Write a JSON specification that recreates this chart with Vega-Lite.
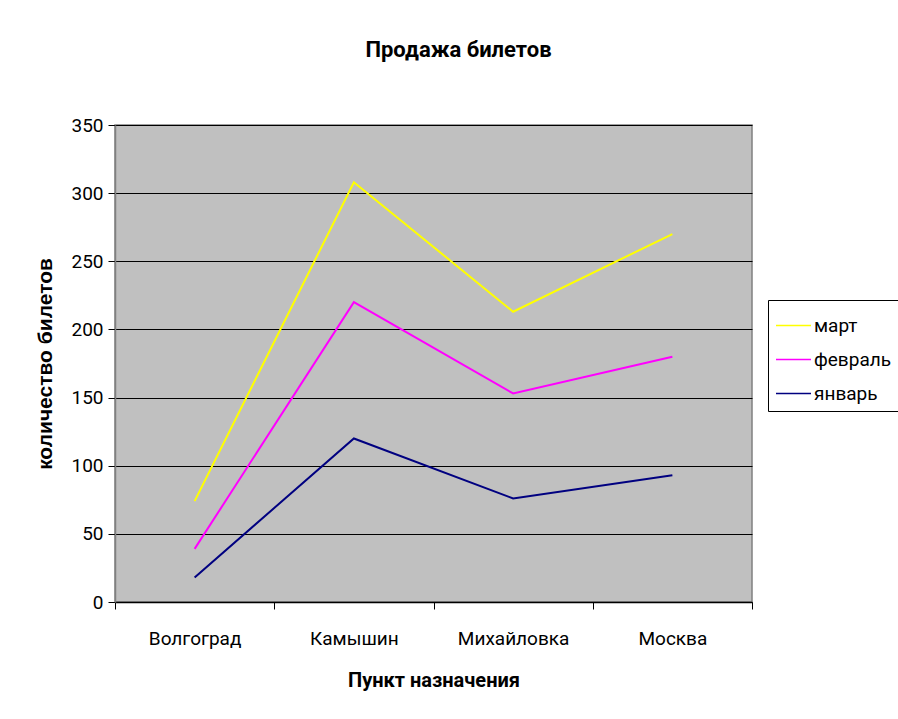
{
  "$schema": "https://vega.github.io/schema/vega-lite/v6.json",
  "autosize": "none",
  "width": 637,
  "height": 477,
  "padding": {"left": 115, "top": 125, "right": 146, "bottom": 117},
  "background": "white",
  "title": {
    "text": "Продажа билетов",
    "font": "Roboto",
    "fontSize": 22,
    "fontWeight": "bold",
    "color": "#000000",
    "anchor": "middle",
    "dx": 25,
    "offset": 54
  },
  "config": {
    "view": {"fill": "#C0C0C0", "stroke": "#808080", "strokeWidth": 1.5},
    "font": "Roboto"
  },
  "data": {
    "values": [
      {"city": "Волгоград", "month": "март", "n": 74},
      {"city": "Камышин", "month": "март", "n": 308},
      {"city": "Михайловка", "month": "март", "n": 213},
      {"city": "Москва", "month": "март", "n": 270},
      {"city": "Волгоград", "month": "февраль", "n": 39},
      {"city": "Камышин", "month": "февраль", "n": 220},
      {"city": "Михайловка", "month": "февраль", "n": 153},
      {"city": "Москва", "month": "февраль", "n": 180},
      {"city": "Волгоград", "month": "январь", "n": 18},
      {"city": "Камышин", "month": "январь", "n": 120},
      {"city": "Михайловка", "month": "январь", "n": 76},
      {"city": "Москва", "month": "январь", "n": 93}
    ]
  },
  "mark": {"type": "line", "strokeWidth": 2},
  "encoding": {
    "x": {
      "field": "city",
      "type": "nominal",
      "sort": ["Волгоград", "Камышин", "Михайловка", "Москва"],
      "scale": {"type": "band", "paddingInner": 0, "paddingOuter": 0},
      "axis": {
        "title": "Пункт назначения",
        "titleFont": "Roboto",
        "titleFontSize": 20,
        "titleFontWeight": "bold",
        "titleColor": "#000000",
        "titlePadding": 22,
        "labelAngle": 0,
        "labelFont": "Roboto",
        "labelFontSize": 19,
        "labelColor": "#000000",
        "labelPadding": 20,
        "tickBand": "extent",
        "tickSize": 7,
        "tickColor": "#000000",
        "domainColor": "#000000",
        "domainWidth": 1.5,
        "grid": false
      }
    },
    "y": {
      "field": "n",
      "type": "quantitative",
      "scale": {"domain": [0, 350], "nice": false},
      "axis": {
        "title": "количество билетов",
        "titleFont": "Liberation Sans",
        "titleFontSize": 21,
        "titleFontWeight": "bold",
        "titleColor": "#000000",
        "titlePadding": 15,
        "values": [0, 50, 100, 150, 200, 250, 300, 350],
        "labelFont": "Roboto",
        "labelFontSize": 19,
        "labelColor": "#000000",
        "labelPadding": 5,
        "tickSize": 7,
        "tickColor": "#000000",
        "domainColor": "#808080",
        "domainWidth": 1.5,
        "grid": true,
        "gridColor": "#000000",
        "gridWidth": 1
      }
    },
    "color": {
      "field": "month",
      "type": "nominal",
      "scale": {
        "domain": ["март", "февраль", "январь"],
        "range": ["#FFFF00", "#FF00FF", "#000080"]
      },
      "legend": {
        "title": null,
        "orient": "none",
        "legendX": 653,
        "legendY": 175,
        "strokeColor": "#000000",
        "fillColor": "#FFFFFF",
        "padding": 7,
        "symbolType": "stroke",
        "symbolSize": 1225,
        "symbolStrokeWidth": 1.5,
        "rowPadding": 5,
        "labelFont": "Roboto",
        "labelFontSize": 19,
        "labelColor": "#000000",
        "labelOffset": 2
      }
    }
  }
}
